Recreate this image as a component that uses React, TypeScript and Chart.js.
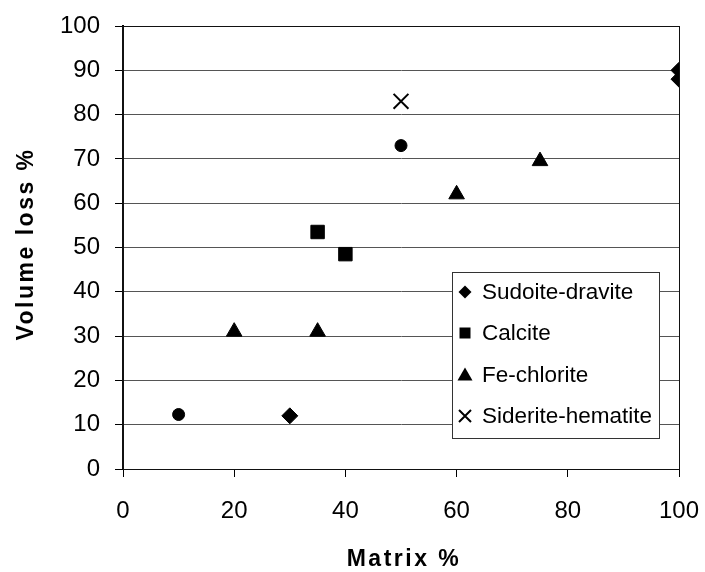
import React, { useEffect, useRef } from "react";
import { Chart, registerables } from "chart.js";

Chart.register(...registerables);

const FONT = '"Liberation Sans", Arial, sans-serif';

const xTitle = "Matrix %";
const yTitle = "Volume loss %";

const seriesNames = ["Sudoite-dravite", "Calcite", "Fe-chlorite", "Siderite-hematite"];

const sudoiteX = [30, 100, 100];
const sudoiteY = [12, 90, 88];
const calciteX = [35, 40];
const calciteY = [53.5, 48.5];
const feChloriteX = [20, 35, 60, 75];
const feChloriteY = [31, 31, 62, 69.5];
const sideriteX = [50];
const sideriteY = [83];
const otherX = [10, 50];
const otherY = [12.3, 73];

const xTicks = [0, 20, 40, 60, 80, 100];
const yTicks = [0, 10, 20, 30, 40, 50, 60, 70, 80, 90, 100];

function pts(xs: number[], ys: number[]) {
  return xs.map((x, i) => ({ x, y: ys[i] }));
}

function drawMarker(ctx: CanvasRenderingContext2D, kind: string, x: number, y: number, s: number) {
  ctx.save();
  ctx.fillStyle = "#000";
  ctx.strokeStyle = "#000";
  ctx.beginPath();
  if (kind === "diamond") {
    ctx.moveTo(x, y - s);
    ctx.lineTo(x + s, y);
    ctx.lineTo(x, y + s);
    ctx.lineTo(x - s, y);
    ctx.closePath();
    ctx.fill();
  } else if (kind === "square") {
    ctx.rect(x - s, y - s, 2 * s, 2 * s);
    ctx.fill();
  } else if (kind === "triangle") {
    const h = s * 1.75;
    ctx.moveTo(x, y - h / 2 - 1);
    ctx.lineTo(x + s, y + h / 2 - 1);
    ctx.lineTo(x - s, y + h / 2 - 1);
    ctx.closePath();
    ctx.fill();
  } else if (kind === "cross") {
    ctx.lineWidth = 2;
    ctx.moveTo(x - s, y - s);
    ctx.lineTo(x + s, y + s);
    ctx.moveTo(x + s, y - s);
    ctx.lineTo(x - s, y + s);
    ctx.stroke();
  }
  ctx.restore();
}

const decorPlugin = {
  id: "decor",
  beforeDatasetsDraw(chart: any) {
    const { ctx, chartArea } = chart;
    ctx.save();
    ctx.strokeStyle = "#111";
    ctx.lineWidth = 1;
    ctx.strokeRect(chartArea.left + 0.5, chartArea.top + 0.5, chartArea.right - chartArea.left, chartArea.bottom - chartArea.top);
    ctx.lineWidth = 2;
    ctx.beginPath();
    ctx.moveTo(chartArea.left, chartArea.top);
    ctx.lineTo(chartArea.left, chartArea.bottom);
    ctx.stroke();
    ctx.restore();
  },
  afterDraw(chart: any) {
    const { ctx, chartArea } = chart;
    ctx.save();
    ctx.fillStyle = "#000";
    ctx.font = `bold 23px ${FONT}`;
    (ctx as any).letterSpacing = "2.5px";
    ctx.textAlign = "center";
    ctx.textBaseline = "alphabetic";
    ctx.fillText(xTitle, 404, 566);
    ctx.save();
    ctx.translate(33, 244);
    ctx.rotate(-Math.PI / 2);
    ctx.fillText(yTitle, 0, 0);
    ctx.restore();
    (ctx as any).letterSpacing = "0px";

    const bx = 452, by = 272, bw = 207, bh = 166;
    ctx.fillStyle = "#fff";
    ctx.fillRect(bx, by, bw, bh);
    ctx.strokeStyle = "#333";
    ctx.lineWidth = 1;
    ctx.strokeRect(bx + 0.5, by + 0.5, bw, bh);
    const kinds = ["diamond", "square", "triangle", "cross"];
    const sizes = [6.5, 5.5, 7.5, 6];
    const rowY = [292, 333, 375, 416];
    ctx.font = `22.5px ${FONT}`;
    ctx.textAlign = "left";
    ctx.textBaseline = "middle";
    seriesNames.forEach((name, i) => {
      drawMarker(ctx, kinds[i], 465, rowY[i], sizes[i]);
      ctx.fillStyle = "#000";
      ctx.fillText(name, 482, rowY[i] + 1);
    });
    ctx.restore();
  },
};

export default function App() {
  const ref = useRef<HTMLCanvasElement | null>(null);
  useEffect(() => {
    document.body.style.margin = "0";
    if (!ref.current) return;
    const chart = new Chart(ref.current, {
      type: "scatter",
      data: {
        datasets: [
          { label: seriesNames[0], data: pts(sudoiteX, sudoiteY), pointStyle: "rectRot", pointRadius: 8, backgroundColor: "#000", borderColor: "#000", borderWidth: 1 },
          { label: seriesNames[1], data: pts(calciteX, calciteY), pointStyle: "rect", pointRadius: 9.5, backgroundColor: "#000", borderColor: "#000", borderWidth: 1 },
          { label: seriesNames[2], data: pts(feChloriteX, feChloriteY), pointStyle: "triangle", pointRadius: 9, backgroundColor: "#000", borderColor: "#000", borderWidth: 1 },
          { label: seriesNames[3], data: pts(sideriteX, sideriteY), pointStyle: "crossRot", pointRadius: 10.5, backgroundColor: "#000", borderColor: "#000", borderWidth: 2 },
          { label: "", data: pts(otherX, otherY), pointStyle: "circle", pointRadius: 6, backgroundColor: "#000", borderColor: "#000", borderWidth: 1 },
        ],
      },
      options: {
        animation: false,
        responsive: false,
        layout: { padding: { top: 26, right: 26, left: 0, bottom: 0 } },
        plugins: { legend: { display: false }, tooltip: { enabled: false } },
        scales: {
          x: {
            type: "linear",
            min: 0,
            max: 100,
            afterBuildTicks: (s: any) => { s.ticks = xTicks.map((v) => ({ value: v })); },
            afterFit: (s: any) => { s.height = 103; s.paddingLeft = 0; s.paddingRight = 0; },
            ticks: { color: "#000", font: { family: FONT, size: 24 }, padding: 20, maxRotation: 0 },
            grid: { drawOnChartArea: false, drawTicks: true, tickLength: 8, color: "#000", tickColor: "#000" },
            border: { display: true, color: "#111", width: 1 },
          },
          y: {
            type: "linear",
            min: 0,
            max: 100,
            afterBuildTicks: (s: any) => { s.ticks = yTicks.map((v) => ({ value: v })); },
            afterFit: (s: any) => { s.width = 123; s.paddingTop = 0; s.paddingBottom = 0; },
            ticks: { color: "#000", font: { family: FONT, size: 24 }, padding: 15 },
            grid: { color: "#555", lineWidth: 1, drawTicks: true, tickLength: 8, tickColor: "#000" },
            border: { display: true, color: "#000", width: 2 },
          },
        },
      },
      plugins: [decorPlugin],
    });
    return () => chart.destroy();
  }, []);
  return (
    <div style={{ width: 705, height: 572 }}>
      <canvas ref={ref} width={705} height={572} />
    </div>
  );
}
